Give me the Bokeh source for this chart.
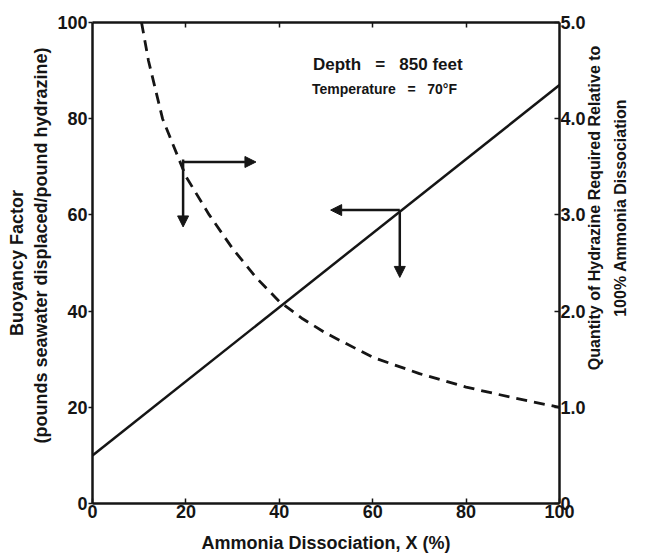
import math
from bokeh.plotting import figure
from bokeh.models import Range1d, LinearAxis, Arrow, NormalHead, Label, FixedTicker
from bokeh.embed import file_html
from bokeh.resources import INLINE

# Buoyancy factor (left axis)
buoy_x = [0, 100]
buoy_y = [10, 87]

# Relative hydrazine quantity (right axis, 0-5)
qty_x = [10.5, 12, 15, 20, 25, 30, 35, 40, 45, 50, 60, 70, 80, 90, 100]
qty_y = [5.0, 4.6, 4.0, 3.4, 3.0, 2.65, 2.35, 2.1, 1.92, 1.77, 1.52, 1.35, 1.21, 1.1, 1.0]

x_ticks = [0, 20, 40, 60, 80, 100]
left_ticks = [0, 20, 40, 60, 80, 100]
right_ticks = [0, 1, 2, 3, 4, 5]
right_labels = {0: "0", 1: "1.0", 2: "2.0", 3: "3.0", 4: "4.0", 5: "5.0"}
top_ticks = [20, 40, 60, 80]

# arrow annotations (corner, ends)
arrow1 = dict(cx=19.4, cy=71.0, rx=35.0, dy=57.5)
arrow2 = dict(cx=65.8, cy=61.0, lx=51.0, dy=47.0)

FONT = "Liberation Sans"
INK = "#151515"
NB = "\u00a0"

p = figure(width=653, height=557, output_backend="svg", toolbar_location=None,
           x_range=Range1d(0, 100), y_range=Range1d(0, 100),
           min_border_left=92, min_border_right=93, min_border_top=22, min_border_bottom=54)
p.extra_y_ranges = {"q": Range1d(0, 5)}
p.outline_line_color = None
p.grid.visible = False
p.background_fill_color = "white"

def style(ax, tick_in, tick_out):
    ax.axis_line_width = 2.5
    ax.axis_line_color = INK
    ax.major_tick_line_color = INK
    ax.major_tick_line_width = 1.5
    ax.major_tick_in = tick_in
    ax.major_tick_out = tick_out
    ax.minor_tick_line_color = None
    ax.major_label_text_font = FONT
    ax.major_label_text_font_style = "bold"
    ax.major_label_text_font_size = "18px"
    ax.major_label_text_color = INK
    ax.axis_label_text_font = FONT
    ax.axis_label_text_font_style = "bold"
    ax.axis_label_text_color = INK

xa = p.xaxis[0]
style(xa, 5, 0)
xa.ticker = FixedTicker(ticks=x_ticks)
xa.major_label_standoff = 1
xa.axis_label = "Ammonia Dissociation, X (%)"
xa.axis_label_text_font_size = "18px"
xa.axis_label_standoff = 12

ya = p.yaxis[0]
style(ya, 0, 4)
ya.ticker = FixedTicker(ticks=left_ticks)
ya.major_label_standoff = 1
ya.axis_label = "Buoyancy Factor\n" + NB * 7 + "(pounds seawater displaced/pound hydrazine)"
ya.axis_label_text_font_size = "18px"
ya.axis_label_standoff = 3

ra = LinearAxis(y_range_name="q")
style(ra, 5, 0)
ra.ticker = FixedTicker(ticks=right_ticks)
ra.major_label_overrides = right_labels
ra.major_label_standoff = 1
ra.axis_label = (NB * 30 + "Quantity of Hydrazine Required Relative to\n"
                 + NB * 42 + "100% Ammonia Dissociation")
ra.axis_label_text_font_size = "16px"
ra.axis_label_orientation = math.pi / 2
ra.axis_label_align = "start"
ra.axis_label_text_align = "left"
ra.axis_label_text_baseline = "top"
ra.axis_label_text_line_height = 1.5
ra.axis_label_standoff = 19
p.add_layout(ra, "right")

ta = LinearAxis()
style(ta, 5, 0)
ta.ticker = FixedTicker(ticks=top_ticks)
ta.major_label_overrides = {t: "" for t in top_ticks}
ta.major_label_standoff = 0
p.add_layout(ta, "above")

p.line(buoy_x, buoy_y, line_color=INK, line_width=2.5)
p.line(qty_x, qty_y, y_range_name="q", line_color=INK, line_width=2.8, line_dash="11 7")

def arrow(x0, y0, x1, y1):
    p.add_layout(Arrow(x_start=x0, y_start=y0, x_end=x1, y_end=y1, line_width=2.5, line_color=INK,
                       end=NormalHead(size=11, fill_color=INK, line_color=INK)))

arrow(arrow1["cx"], arrow1["cy"], arrow1["rx"], arrow1["cy"])
arrow(arrow1["cx"], arrow1["cy"] + 0.5, arrow1["cx"], arrow1["dy"])
arrow(arrow2["cx"], arrow2["cy"], arrow2["lx"], arrow2["cy"])
arrow(arrow2["cx"], arrow2["cy"], arrow2["cx"], arrow2["dy"])

p.add_layout(Label(x=47.2, y=89.3, text="Depth" + NB * 3 + "=" + NB * 3 + "850 feet", text_font=FONT,
                   text_font_style="bold", text_font_size="17px", text_color=INK))
p.add_layout(Label(x=47.0, y=84.6, text="Temperature" + NB * 3 + "=" + NB * 3 + "70°F", text_font=FONT,
                   text_font_style="bold", text_font_size="14px", text_color=INK))

open("out.html", "w").write(file_html(p, INLINE))
